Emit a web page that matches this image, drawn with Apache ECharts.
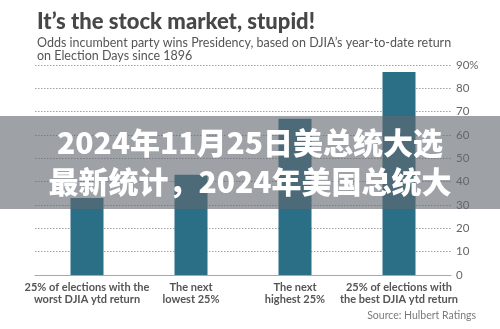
<!DOCTYPE html>
<html>
<head>
<meta charset="utf-8">
<script src="https://cdn.jsdelivr.net/npm/echarts@6/dist/echarts.min.js"></script>
<style>
html,body{margin:0;padding:0;background:#fff;}
#chart{width:500px;height:329px;}
</style>
</head>
<body>
<div id="chart"></div>
<script>
const categories = [
  "25% of elections with the\nworst DJIA ytd return",
  "The next\nlowest 25%",
  "The next\nhighest 25%",
  "25% of elections with\nthe best DJIA ytd return"
];
const winOdds = [33, 43, 67, 87];
const yTicks = [0, 10, 20, 30, 40, 50, 60, 70, 80, 90];
const titleText = "It\u2019s the stock market, stupid!";
const subtitleText = "Odds incumbent party wins Presidency, based on DJIA\u2019s year-to-date return\non Election Days since 1896";
const sourceText = "Source: Hulbert Ratings";
const bannerLines = ["2024年11月25日美总统大选", "最新统计，2024年美国总统大"];

const chart = echarts.init(document.getElementById('chart'), null, {renderer: 'canvas'});
chart.setOption({
  animation: false,
  backgroundColor: '#ffffff',
  title: [
    {
      text: titleText, left: 32, top: 6,
      textStyle: {fontFamily: 'Lato', fontWeight: 900, fontSize: 22, color: '#474747'}
    },
    {
      text: subtitleText, left: 32, top: 31,
      textStyle: {fontFamily: 'Lato', fontWeight: 'normal', fontSize: 12.5, lineHeight: 13, color: '#555555'}
    },
    {
      text: sourceText, right: 19, top: 305,
      textStyle: {fontFamily: 'Lato', fontWeight: 'normal', fontSize: 10.5, color: '#7a7a7a'}
    }
  ],
  grid: {left: 35, right: 49, top: 65, bottom: 54},
  xAxis: {
    type: 'category',
    data: categories,
    axisTick: {show: false},
    axisLine: {lineStyle: {color: '#a8a8a8', width: 1}},
    axisLabel: {
      interval: 0, margin: 6,
      fontFamily: 'Lato', fontWeight: 'bold', fontSize: 11, lineHeight: 12, color: '#555555'
    }
  },
  yAxis: {
    type: 'value', position: 'right',
    min: 0, max: 90, interval: 10,
    axisLine: {show: false}, axisTick: {show: false},
    splitLine: {lineStyle: {type: [1.5, 1.5], color: '#a0a0a0', width: 1}},
    axisLabel: {
      margin: 5, align: 'left',
      fontFamily: 'Lato', fontSize: 11.5, color: '#666666',
      formatter: function (v) { return yTicks.indexOf(v) >= 0 ? (v === 90 ? v + '%' : String(v)) : ''; }
    }
  },
  series: [{
    type: 'bar',
    data: winOdds,
    barWidth: 33,
    itemStyle: {color: '#2b6f87'}
  }],
  graphic: [
    {
      type: 'rect', z: 100, left: 0, top: 116,
      shape: {width: 500, height: 93},
      style: {fill: 'rgba(98,103,112,0.62)'}
    },
    {
      type: 'text', z: 101, left: 'center', top: 128,
      style: {text: bannerLines[0], fill: '#ffffff', font: '900 30px "Noto Sans CJK SC", sans-serif'}
    },
    {
      type: 'text', z: 101, left: 'center', top: 167,
      style: {text: bannerLines[1], fill: '#ffffff', font: '900 30px "Noto Sans CJK SC", sans-serif'}
    }
  ]
});
</script>
</body>
</html>
